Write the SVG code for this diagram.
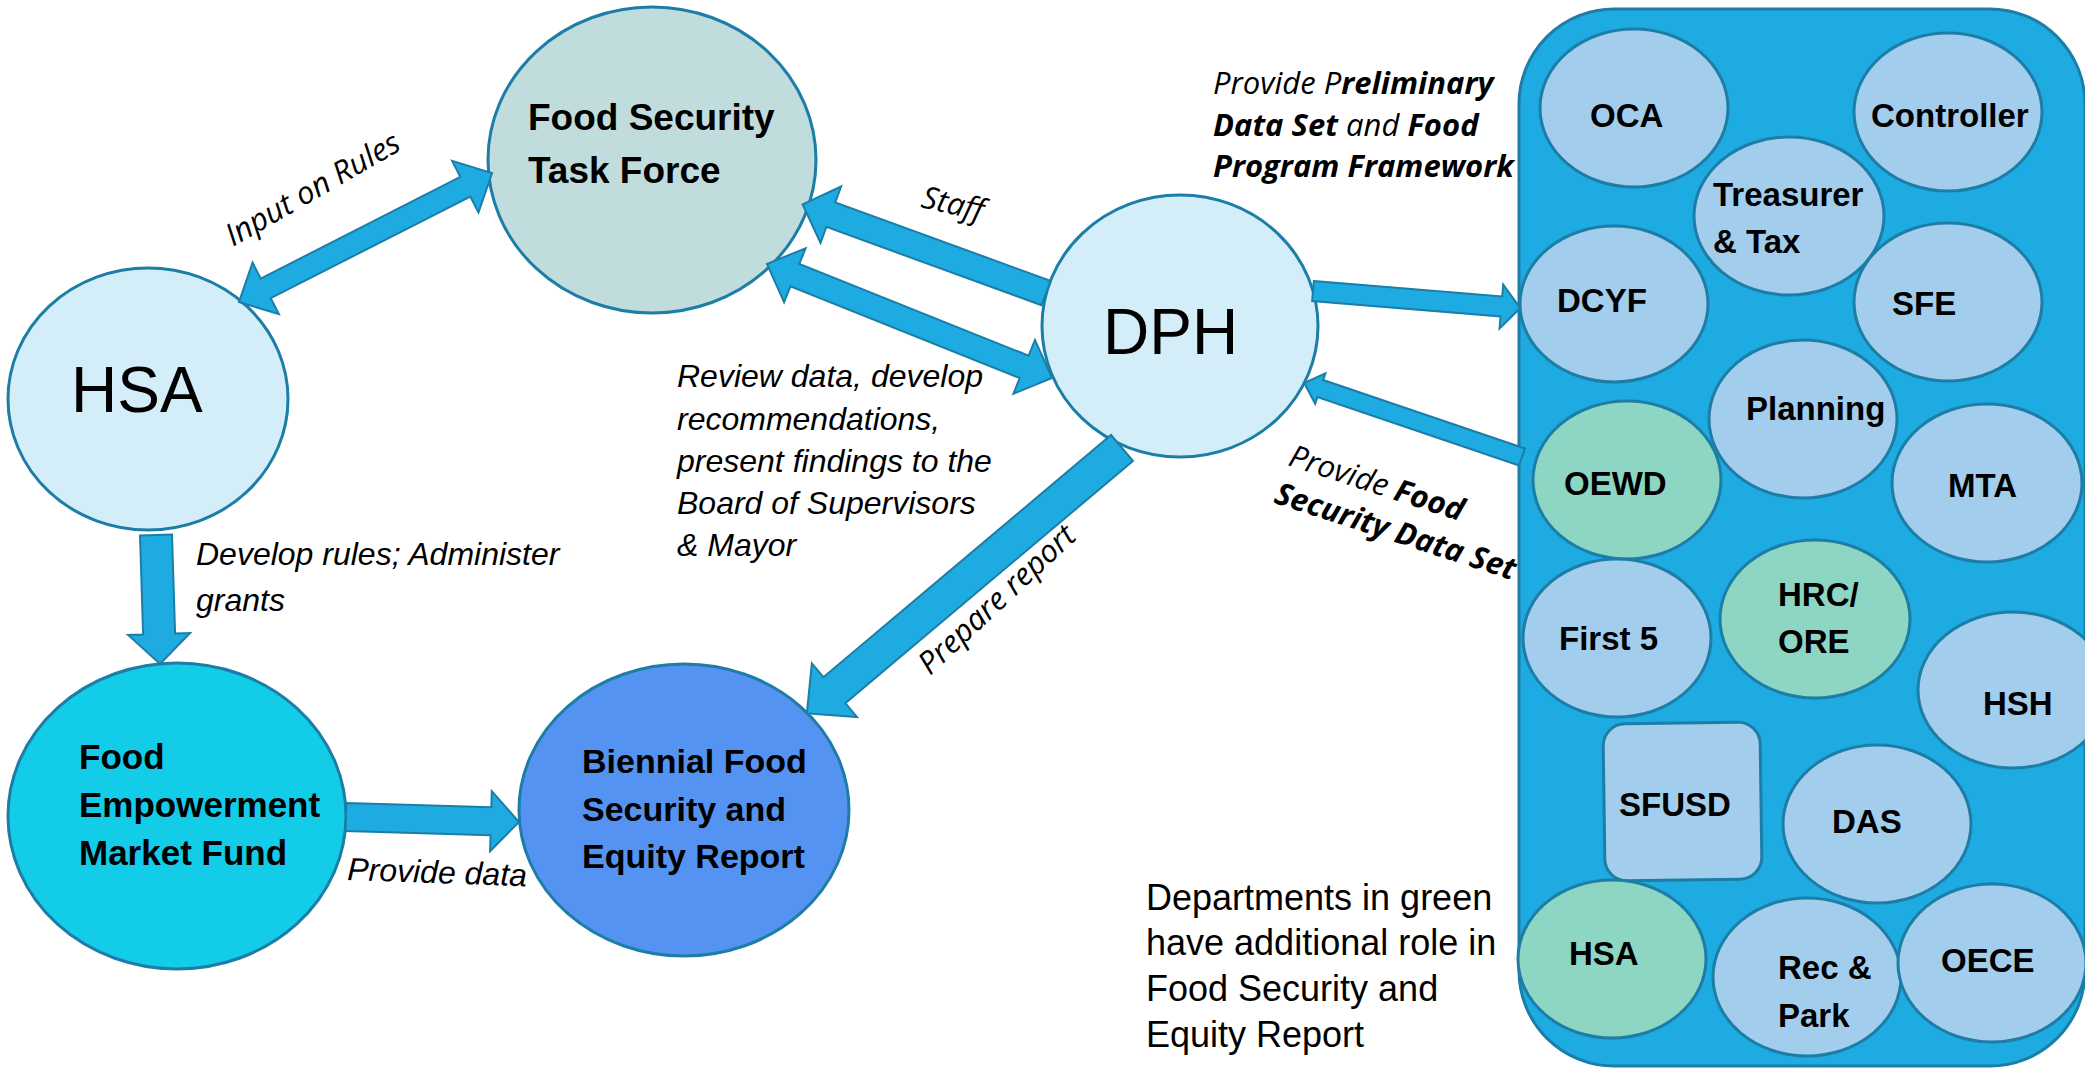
<svg xmlns="http://www.w3.org/2000/svg" width="2085" height="1070" viewBox="0 0 2085 1070">
<style>
.node{stroke:#1C7DA6;stroke-width:3}
.dept{fill:#A3CDEC;stroke:#1C7DA6;stroke-width:3}
.green{fill:#8ED6C4}
.arrow{fill:#1EABE2;stroke:#1C7DA6;stroke-width:2;stroke-linejoin:miter}
.b{font-family:"Liberation Sans",Arial,sans-serif;font-weight:bold;fill:#000}
.big{font-family:"Liberation Sans",Arial,sans-serif;font-size:64px;fill:#000}
.d{font-family:"Liberation Sans",Arial,sans-serif;font-weight:bold;font-size:33px;fill:#000}
.it{font-family:"Liberation Sans",Arial,sans-serif;font-style:italic;font-size:32px;fill:#000}
.os{font-family:"Open Sans","Liberation Sans",sans-serif;font-style:italic;font-size:31px;fill:#000}
.bo{font-weight:bold}
.leg{font-family:"Liberation Sans",Arial,sans-serif;font-size:36px;fill:#000}
</style>
<rect width="2085" height="1070" fill="#FFFFFF"/>

<g id="node-fstf">
<ellipse class="node" cx="652" cy="160" rx="164" ry="153" fill="#C0DCDC"/>
<text class="b" font-size="37" x="528" y="130">Food Security</text>
<text class="b" font-size="37" x="528" y="183">Task Force</text>
</g>

<g id="node-hsa">
<ellipse class="node" cx="148" cy="399" rx="140" ry="131" fill="#D3EEF8"/>
<text class="big" x="71" y="412">HSA</text>
</g>

<g id="node-dph">
<ellipse class="node" cx="1180" cy="326" rx="138" ry="131" fill="#D3EEF8"/>
<text class="big" x="1103" y="354">DPH</text>
</g>

<g id="node-femf">
<ellipse class="node" cx="177" cy="816" rx="169" ry="153" fill="#12CCE8"/>
<text class="b" font-size="35" x="79" y="769">Food</text>
<text class="b" font-size="35" x="79" y="817">Empowerment</text>
<text class="b" font-size="35" x="79" y="865">Market Fund</text>
</g>

<g id="node-report">
<ellipse class="node" cx="684" cy="810" rx="165" ry="146" fill="#5593F2"/>
<text class="b" font-size="34" x="582" y="773">Biennial Food</text>
<text class="b" font-size="34" x="582" y="821">Security and</text>
<text class="b" font-size="34" x="582" y="868">Equity Report</text>
</g>

<g id="node-departments">
<rect x="1519" y="9" width="566" height="1057" rx="95" ry="95" fill="#1EABE2" stroke="#1C7DA6" stroke-width="3"/>
<g id="dept-oca"><ellipse class="dept" cx="1634" cy="108" rx="94" ry="79"/><text class="d" x="1590" y="127">OCA</text></g>
<g id="dept-controller"><ellipse class="dept" cx="1948" cy="112" rx="94" ry="79"/><text class="d" x="1871" y="127">Controller</text></g>
<g id="dept-treasurer"><ellipse class="dept" cx="1789" cy="216" rx="95" ry="79"/><text class="d" x="1713" y="206">Treasurer</text><text class="d" x="1713" y="253">&amp; Tax</text></g>
<g id="dept-dcyf"><ellipse class="dept" cx="1614" cy="304" rx="94" ry="78"/><text class="d" x="1557" y="312">DCYF</text></g>
<g id="dept-sfe"><ellipse class="dept" cx="1948" cy="302" rx="94" ry="79"/><text class="d" x="1892" y="315">SFE</text></g>
<g id="dept-planning"><ellipse class="dept" cx="1803" cy="419" rx="94" ry="79"/><text class="d" x="1746" y="420">Planning</text></g>
<g id="dept-oewd"><ellipse class="dept green" cx="1627" cy="480" rx="94" ry="79"/><text class="d" x="1564" y="495">OEWD</text></g>
<g id="dept-mta"><ellipse class="dept" cx="1987" cy="483" rx="95" ry="79"/><text class="d" x="1948" y="497">MTA</text></g>
<g id="dept-first5"><ellipse class="dept" cx="1617" cy="638" rx="94" ry="79"/><text class="d" x="1559" y="650">First 5</text></g>
<g id="dept-hrc"><ellipse class="dept green" cx="1815" cy="619" rx="95" ry="79"/><text class="d" x="1778" y="606">HRC/</text><text class="d" x="1778" y="653">ORE</text></g>
<g id="dept-hsh"><ellipse class="dept" cx="2013" cy="690" rx="95" ry="78"/><text class="d" x="1983" y="715">HSH</text></g>
<g id="dept-sfusd"><rect class="dept" x="1604" y="723" width="157" height="157" rx="22" ry="22" transform="rotate(-0.8 1682 801)"/><text class="d" x="1619" y="816">SFUSD</text></g>
<g id="dept-das"><ellipse class="dept" cx="1877" cy="824" rx="94" ry="79"/><text class="d" x="1832" y="833">DAS</text></g>
<g id="dept-hsa"><ellipse class="dept green" cx="1612" cy="959" rx="94" ry="79"/><text class="d" x="1569" y="965">HSA</text></g>
<g id="dept-recpark"><ellipse class="dept" cx="1807" cy="977" rx="94" ry="79"/><text class="d" x="1778" y="979">Rec &amp;</text><text class="d" x="1778" y="1027">Park</text></g>
<g id="dept-oece"><ellipse class="dept" cx="1992" cy="963" rx="94" ry="79"/><text class="d" x="1941" y="972">OECE</text></g>
</g>

<g id="legend">
<text class="leg" x="1146" y="910">Departments in green</text>
<text class="leg" x="1146" y="955">have additional role in</text>
<text class="leg" x="1146" y="1001">Food Security and</text>
<text class="leg" x="1146" y="1047">Equity Report</text>
</g>

<g id="connectors">
<polygon class="arrow" transform="translate(239,302) rotate(-27)" points="0,0 30,-29 30,-11 254,-11 254,-29 284,0 254,29 254,11 30,11 30,29"/>
<polygon class="arrow" transform="translate(1046,293) rotate(-160)" points="0,-13 229,-13 229,-30 259,0 229,30 229,13 0,13"/>
<polygon class="arrow" transform="translate(767,264) rotate(21.8)" points="0,0 30,-29 30,-12 277,-12 277,-29 307,0 277,29 277,12 30,12 30,29"/>
<polygon class="arrow" transform="translate(156,535) rotate(88.2)" points="0,-16 99,-16 99,-31 129,0 99,31 99,16 0,16"/>
<polygon class="arrow" transform="translate(346,817) rotate(1.66)" points="0,-14 145,-14 145,-30 173,0 145,30 145,14 0,14"/>
<polygon class="arrow" transform="translate(1122,448) rotate(139.9)" points="0,-17 376,-17 376,-35 412,0 376,35 376,17 0,17"/>
<polygon class="arrow" transform="translate(1313,291) rotate(4.7)" points="0,-10 189,-10 189,-22 208,0 189,22 189,10 0,10"/>
<polygon class="arrow" transform="translate(1522,457) rotate(-161.25)" points="0,-9 213,-9 213,-16 230,0 213,16 213,9 0,9"/>

<text class="os" transform="translate(233,247) rotate(-30)">Input on Rules</text>
<text class="os" transform="translate(920,207) rotate(13)">Staff</text>
<text class="it" x="677" y="387">Review data, develop</text>
<text class="it" x="677" y="430">recommendations,</text>
<text class="it" x="677" y="472">present findings to the</text>
<text class="it" x="677" y="514">Board of Supervisors</text>
<text class="it" x="677" y="556">&amp; Mayor</text>
<text class="it" x="196" y="565">Develop rules; Administer</text>
<text class="it" x="196" y="611">grants</text>
<text class="it" transform="translate(347,880) rotate(2)">Provide data</text>
<text class="os" transform="translate(930,676) rotate(-43)">Prepare report</text>
<text class="os" x="1213" y="94">Provide P<tspan class="bo">reliminary</tspan></text>
<text class="os" x="1213" y="136"><tspan class="bo">Data Set</tspan> and <tspan class="bo">Food</tspan></text>
<text class="os bo" x="1213" y="177">Program Framework</text>
<g transform="translate(1287,465) rotate(18)">
<text class="os" x="0" y="0">Provide <tspan class="bo">Food</tspan></text>
<text class="os bo" x="-2" y="40">Security Data Set</text>
</g>
</g>
</svg>
